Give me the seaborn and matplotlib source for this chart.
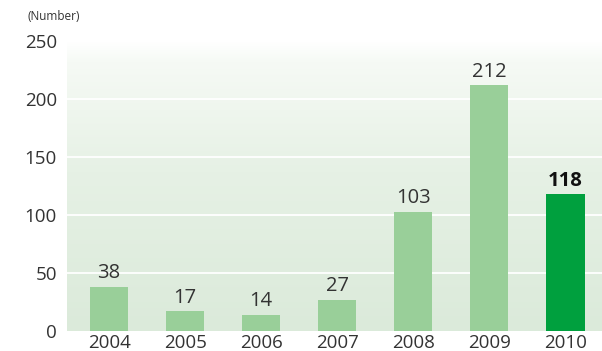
import numpy as np
import matplotlib
matplotlib.use("Agg")
import matplotlib.pyplot as plt
import matplotlib.colors as mcolors
import seaborn as sns

years = ["2004", "2005", "2006", "2007", "2008", "2009", "2010"]
counts = [38, 17, 14, 27, 103, 212, 118]
yticks = [0, 50, 100, 150, 200, 250]
unit_label = "(Number)"

light_green = "#99cf99"
dark_green = "#00a03e"
bar_colors = [light_green] * (len(years) - 1) + [dark_green]

sns.set_theme(style="white")
plt.rcParams["font.family"] = ["Open Sans", "DejaVu Sans"]

fig = plt.figure(figsize=(6.02, 3.51), dpi=100)
ax = fig.add_axes([66.5 / 602, 20 / 351, (602 - 66.5) / 602, (331 - 41) / 351])

sns.barplot(x=years, y=counts, hue=years, palette=bar_colors, legend=False,
            width=0.5, saturation=1, linewidth=0, edgecolor="none", ax=ax, zorder=3)

ax.set_xlim(-0.56, 6.48)
ax.set_ylim(0, 250)

# soft vertical background gradient: pale at the top, light green at the base
cmap = mcolors.LinearSegmentedColormap.from_list(
    "bg", [(0.0, "#dbeada"), (0.55, "#e6f1e5"), (0.93, "#f6faf5"), (1.0, "#ffffff")])
grad = np.linspace(0, 1, 256).reshape(-1, 1)
ax.imshow(grad, aspect="auto", cmap=cmap, origin="lower",
          extent=(-0.56, 6.48, 0, 250), zorder=0)

for y in yticks[1:-1]:
    ax.axhline(y, color="white", lw=1.3, zorder=1)

for i, (yr, v) in enumerate(zip(years, counts)):
    last = i == len(years) - 1
    ax.text(i, v + 3, str(v), ha="center", va="bottom", fontsize=14.5,
            color="#111111" if last else "#333333",
            fontweight="bold" if last else "normal", zorder=4)

ax.set_yticks(yticks)
ax.set_yticklabels([str(t) for t in yticks], fontsize=13.5, color="#333333")
ax.tick_params(axis="x", labelsize=13.5, colors="#333333", length=0, pad=2)
ax.tick_params(axis="y", length=0, pad=7)
ax.set_xlabel("")
ax.set_ylabel("")
for s in ax.spines.values():
    s.set_visible(False)

fig.text(27 / 602, 1 - 17 / 351, unit_label, fontsize=8.5, color="#333333",
         ha="left", va="center")

fig.savefig("out.png", dpi=100)
